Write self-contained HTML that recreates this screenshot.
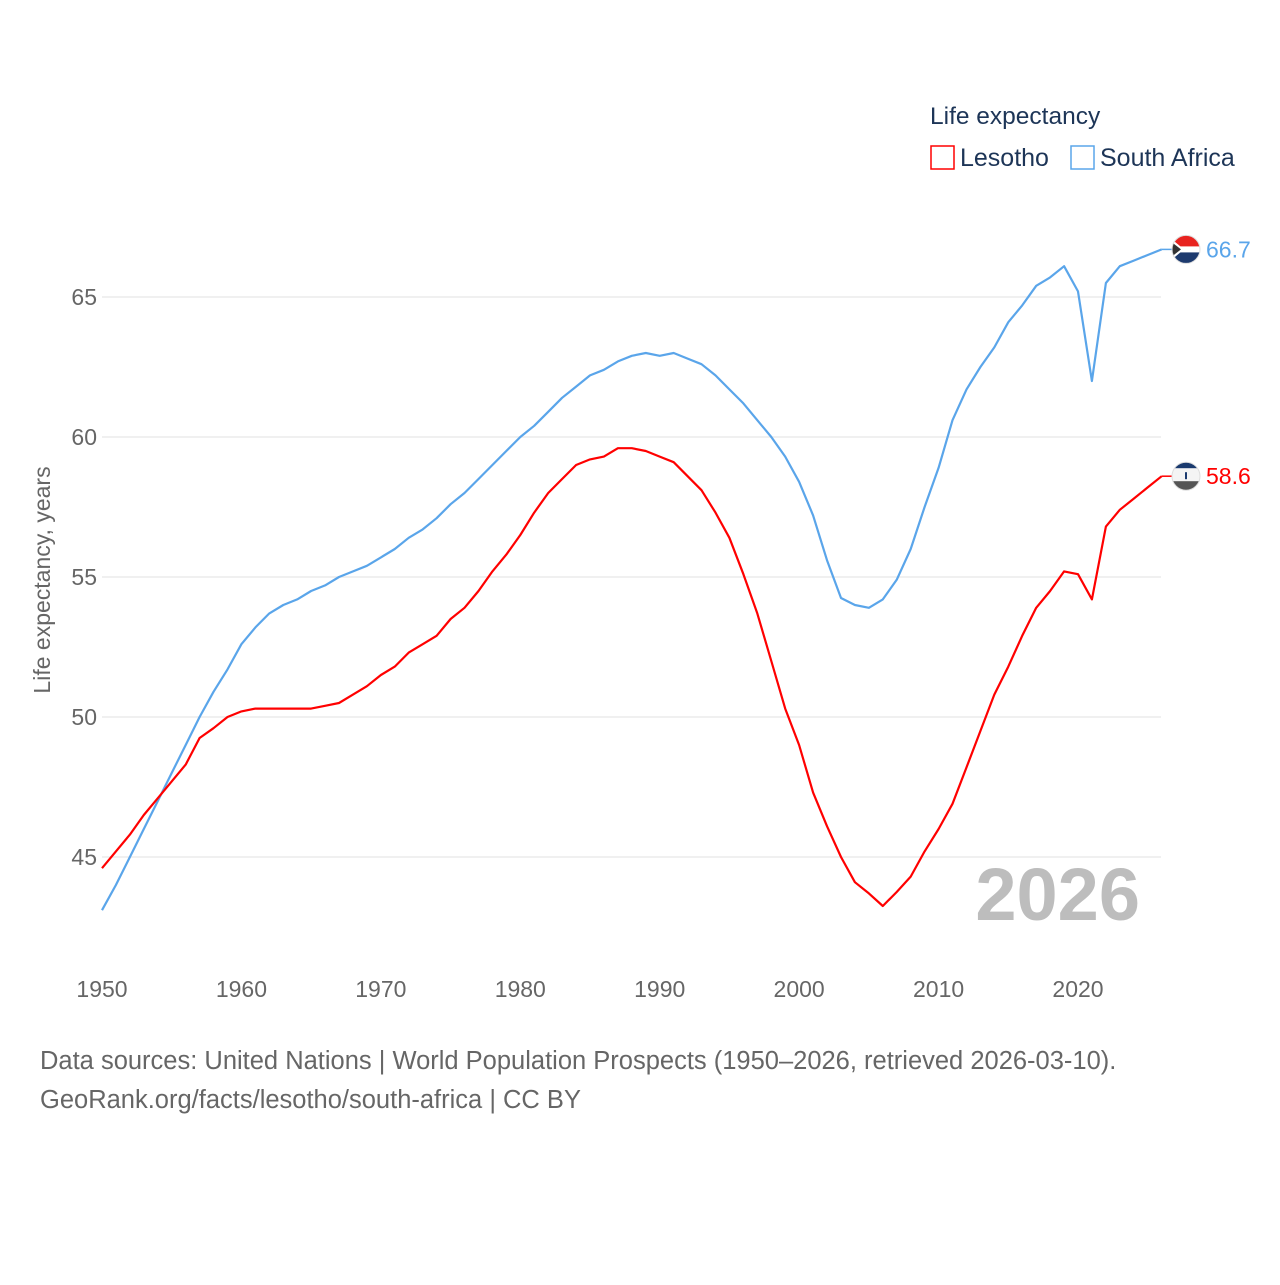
<!DOCTYPE html>
<html><head><meta charset="utf-8"><style>
body{margin:0;background:#fff;width:1280px;height:1280px;overflow:hidden;font-family:"Liberation Sans",sans-serif}
</style></head><body>
<svg id="chart" width="1280" height="1280" xmlns="http://www.w3.org/2000/svg">
<defs>
<clipPath id="c1"><circle cx="1186" cy="0" r="14"/></clipPath>
</defs>
<text x="930" y="124" font-size="24.5" fill="#1d3557">Life expectancy</text>
<g><rect x="931" y="146" width="23" height="23" fill="none" stroke="#ff0000" stroke-width="1.5"/><text x="960" y="166" font-size="25" fill="#1d3557">Lesotho</text></g>
<g><rect x="1071" y="146" width="23" height="23" fill="none" stroke="#5aa5ea" stroke-width="1.5"/><text x="1100" y="166" font-size="25" fill="#1d3557">South Africa</text></g>
<g id="grid"></g><g id="yt"></g><g id="xt"></g><g id="lines"></g>
<text x="1140" y="920" text-anchor="end" font-size="74" font-weight="bold" fill="#bdbdbd">2026</text>
<text x="50" y="580" transform="rotate(-90 50 580)" text-anchor="middle" font-size="23" fill="#666">Life expectancy, years</text>
<text x="40" y="1069" font-size="25.5" fill="#666">Data sources: United Nations | World Population Prospects (1950–2026, retrieved 2026-03-10).</text>
<text x="40" y="1108" font-size="25.5" fill="#666">GeoRank.org/facts/lesotho/south-africa | CC BY</text>
</svg>
<script>
const years=[];for(let y=1950;y<=2026;y++)years.push(y);
const southAfrica=[43.1,44.0,45.0,46.0,47.0,48.0,49.0,50.0,50.9,51.7,52.6,53.2,53.7,54.0,54.2,54.5,54.7,55.0,55.2,55.4,55.7,56.0,56.4,56.7,57.1,57.6,58.0,58.5,59.0,59.5,60.0,60.4,60.9,61.4,61.8,62.2,62.4,62.7,62.9,63.0,62.9,63.0,62.8,62.6,62.2,61.7,61.2,60.6,60.0,59.3,58.4,57.2,55.6,54.25,54.0,53.9,54.2,54.9,56.0,57.5,58.9,60.6,61.7,62.5,63.2,64.1,64.7,65.4,65.7,66.1,65.2,62.0,65.5,66.1,66.3,66.5,66.7];
const lesotho=[44.6,45.2,45.8,46.5,47.1,47.7,48.3,49.25,49.6,50.0,50.2,50.3,50.3,50.3,50.3,50.3,50.4,50.5,50.8,51.1,51.5,51.8,52.3,52.6,52.9,53.5,53.9,54.5,55.2,55.8,56.5,57.3,58.0,58.5,59.0,59.2,59.3,59.6,59.6,59.5,59.3,59.1,58.6,58.1,57.3,56.4,55.1,53.7,52.0,50.3,49.0,47.3,46.1,45.0,44.1,43.7,43.25,43.75,44.3,45.2,46.0,46.9,48.2,49.5,50.8,51.8,52.9,53.9,54.5,55.2,55.1,54.2,56.8,57.4,57.8,58.2,58.6];
const yTicks=[45,50,55,60,65];
const xTicks=[1950,1960,1970,1980,1990,2000,2010,2020];
const X=y=>102+(y-1950)*(1078-102)/70;
const Y=v=>297+(65-v)*28;
const NS="http://www.w3.org/2000/svg";
function mk(t,a,p){const e=document.createElementNS(NS,t);for(const k in a)e.setAttribute(k,a[k]);p.appendChild(e);return e;}
const grid=document.getElementById('grid'),yt=document.getElementById('yt'),xt=document.getElementById('xt'),lines=document.getElementById('lines');
const defs=document.querySelector('defs');
yTicks.forEach(v=>{
 const l=mk('line',{x1:102,x2:1161,y1:Y(v),y2:Y(v),stroke:'#ebebeb','stroke-width':1.5},grid);
 
 
 const t=mk('text',{x:97,y:Y(v)+8,'text-anchor':'end','font-size':23,fill:'#666'},yt);t.textContent=v;
 
 
});
xTicks.forEach(v=>{
 const t=mk('text',{x:X(v),y:997,'text-anchor':'middle','font-size':23,fill:'#666'},xt);t.textContent=v;
 
 
});
function series(vals,color,name){
 const d=vals.map((v,i)=>(i?'L':'M')+X(years[i]).toFixed(1)+','+Y(v).toFixed(1)).join('');
 const p=mk('path',{d:d,fill:'none',stroke:color,'stroke-width':2.2,'stroke-linejoin':'round'},lines);
 
 
 const last=vals[vals.length-1],ly=Y(last);
 mk('line',{x1:X(2026),x2:1172,y1:ly,y2:ly,stroke:color,'stroke-width':1.5},lines);
 const cp=mk('clipPath',{id:'clip-'+name},defs);
 mk('circle',{cx:1186,cy:ly,r:14},cp);
 const g=mk('g',{'clip-path':'url(#clip-'+name+')'},lines);
 
 
 if(name==='lesotho'){
  mk('rect',{x:1172,y:ly-14,width:28,height:28,fill:'#f4f4f4'},g);
  mk('rect',{x:1172,y:ly-14,width:28,height:6,fill:'#1a3a6e'},g);
  mk('rect',{x:1172,y:ly+5,width:28,height:9,fill:'#555'},g);
  mk('rect',{x:1185,y:ly-4,width:2,height:7,fill:'#1a3a6e'},g);
 } else {
  mk('rect',{x:1172,y:ly-14,width:28,height:14,fill:'#e8231f'},g);
  mk('rect',{x:1172,y:ly,width:28,height:14,fill:'#1d3a6e'},g);
  mk('rect',{x:1176,y:ly-3,width:24,height:6,fill:'#fff'},g);
  mk('path',{d:`M1172,${ly-10}L1184,${ly}L1172,${ly+10}Z`,fill:'#fff'},g);
  mk('path',{d:`M1172,${ly-7}L1181,${ly}L1172,${ly+7}Z`,fill:'#333'},g);
 }
 mk('circle',{cx:1186,cy:ly,r:14,fill:'none',stroke:'#ddd'},lines);
 const t=mk('text',{x:1206,y:ly+8,'font-size':23,fill:color},lines);t.textContent=last.toFixed(1);
 
 
}
series(southAfrica,'#5aa5ea','south-africa');
series(lesotho,'#ff0000','lesotho');
</script>
</body></html>
